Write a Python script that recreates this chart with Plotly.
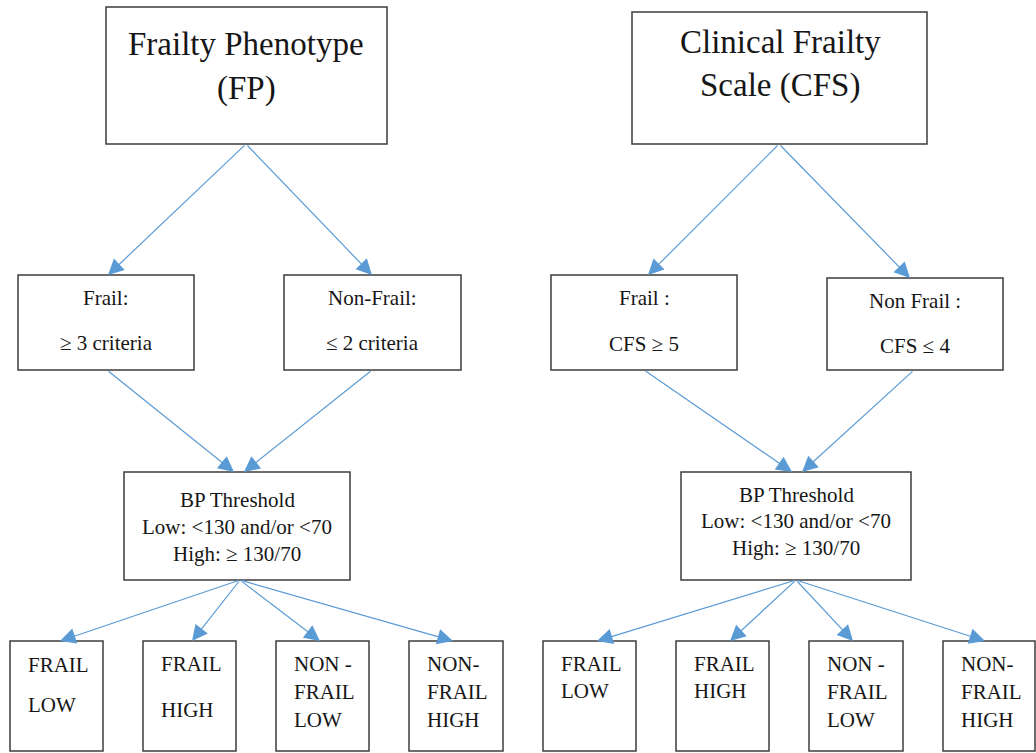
import plotly.graph_objects as go

# ---------------- content (text) ----------------
fp_title = ["Frailty Phenotype", "(FP)"]
cfs_title = ["Clinical Frailty", "Scale (CFS)"]
fp_groups = [["Frail:", "\u2265 3 criteria"], ["Non-Frail:", "\u2264 2 criteria"]]
cfs_groups = [["Frail :", "CFS \u2265 5"], ["Non Frail :", "CFS \u2264 4"]]
bp_lines = ["BP Threshold", "Low: <130 and/or <70", "High: \u2265 130/70"]
fp_outcomes = [["FRAIL", "LOW"], ["FRAIL", "HIGH"], ["NON -", "FRAIL", "LOW"], ["NON-", "FRAIL", "HIGH"]]
cfs_outcomes = [["FRAIL", "LOW"], ["FRAIL", "HIGH"], ["NON -", "FRAIL", "LOW"], ["NON-", "FRAIL", "HIGH"]]

# ---------------- layout geometry (pixels, y downward) ----------------
W, H = 1036, 753
left_boxes = {
    "title": (106, 7, 387, 144),
    "g0": (18, 275, 194, 370),
    "g1": (284, 275, 461, 370),
    "bp": (124, 472, 350, 580),
    "o": [(10, 641, 103, 751), (143, 641, 236, 751), (276, 641, 369, 751), (409, 641, 503, 751)],
}
right_boxes = {
    "title": (632, 12, 927, 144),
    "g0": (551, 275, 737, 370),
    "g1": (827, 278, 1003, 370),
    "bp": (681, 472, 911, 580),
    "o": [(543, 641, 636, 751), (676, 641, 769, 751), (809, 641, 903, 751), (943, 641, 1035, 751)],
}
left_text = {
    "title": (246, [55, 100]),
    "g0": (106, [305, 350]),
    "g1": (372, [305, 350]),
    "bp": (237, [507, 534, 561]),
    "o": [[672, 712], [671, 717], [671, 699, 727], [671, 699, 727]],
}
right_text = {
    "title": (780, [53, 97]),
    "g0": (644, [305, 351]),
    "g1": (915, [308, 353]),
    "bp": (796, [502, 528, 555]),
    "o": [[671, 698], [671, 698], [671, 699, 727], [671, 699, 727]],
}
left_arrows = [
    (246, 144, 108, 275), (246, 144, 372, 275),
    (107, 370, 234, 472), (372, 370, 244, 472),
    (240, 580, 60, 641), (240, 580, 192, 641), (240, 580, 320, 641), (240, 580, 453, 641),
]
right_arrows = [
    (779, 144, 648, 275), (779, 144, 910, 278),
    (644, 370, 792, 472), (914, 370, 802, 472),
    (796, 580, 597, 641), (796, 580, 730, 641), (796, 580, 853, 641), (796, 580, 985, 641),
]

BOX_COLOR = "#3c3c3c"
ARROW_COLOR = "#5b9bd5"
TEXT_COLOR = "#161616"
FONT = "Liberation Serif, Times New Roman, Times, serif"
TITLE_SIZE = 33
MID_SIZE = 21
BP_SIZE = 21
OUT_SIZE = 21

fig = go.Figure()
shapes = []
annotations = []


def add_box(b):
    shapes.append(dict(type="rect", xref="x", yref="y", x0=b[0], y0=b[1], x1=b[2], y1=b[3],
                       line=dict(color=BOX_COLOR, width=1.5)))


def add_line(text, x, baseline, size, anchor="center"):
    annotations.append(dict(x=x, y=baseline - 0.3375 * size, xref="x", yref="y",
                            text=text, showarrow=False, xanchor=anchor, yanchor="middle",
                            font=dict(family=FONT, size=size, color=TEXT_COLOR)))


def add_arrow(a):
    annotations.append(dict(x=a[2], y=a[3], ax=a[0], ay=a[1], xref="x", yref="y",
                            axref="x", ayref="y", text="", showarrow=True,
                            arrowhead=2, arrowsize=2.6, arrowwidth=1.2, arrowcolor=ARROW_COLOR))


def build(boxes, texts, arrows, title, groups, bp, outcomes):
    for k in ["title", "g0", "g1", "bp"]:
        add_box(boxes[k])
    for b in boxes["o"]:
        add_box(b)
    cx, bl = texts["title"]
    for t, y in zip(title, bl):
        add_line(t, cx, y, TITLE_SIZE)
    for key, lines in zip(["g0", "g1"], groups):
        cx, bl = texts[key]
        for t, y in zip(lines, bl):
            add_line(t, cx, y, MID_SIZE)
    cx, bl = texts["bp"]
    for t, y in zip(bp, bl):
        add_line(t, cx, y, BP_SIZE)
    for b, lines, bl in zip(boxes["o"], outcomes, texts["o"]):
        for t, y in zip(lines, bl):
            add_line(t, b[0] + 16, y, OUT_SIZE, anchor="left")
    for a in arrows:
        add_arrow(a)


build(left_boxes, left_text, left_arrows, fp_title, fp_groups, bp_lines, fp_outcomes)
build(right_boxes, right_text, right_arrows, cfs_title, cfs_groups, bp_lines, cfs_outcomes)

fig.update_layout(
    width=W, height=H,
    margin=dict(l=0, r=0, t=0, b=0),
    paper_bgcolor="white", plot_bgcolor="white",
    font=dict(family=FONT, color=TEXT_COLOR),
    xaxis=dict(range=[0, W], visible=False),
    yaxis=dict(range=[H, 0], visible=False),
    shapes=shapes, annotations=annotations, showlegend=False,
)

fig.write_html("out.html", config={"displayModeBar": False},
               post_script="document.body.style.margin='0px';document.body.style.overflow='hidden';")
